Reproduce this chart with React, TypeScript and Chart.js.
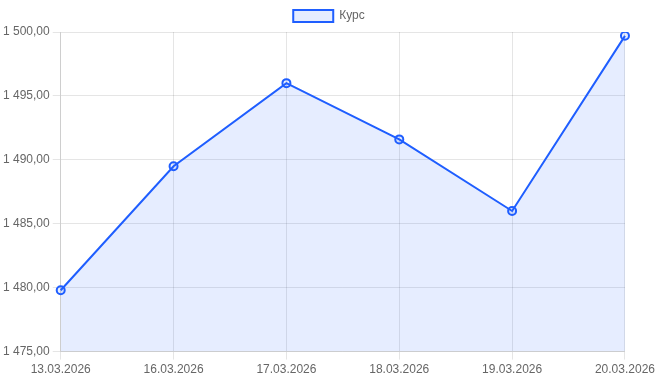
import React, { useEffect, useRef } from "react";
import { Chart, registerables } from "chart.js";

Chart.register(...registerables);

const categories = ["13.03.2026", "16.03.2026", "17.03.2026", "18.03.2026", "19.03.2026", "20.03.2026"];
const rates = [1479.8, 1489.5, 1496.0, 1491.6, 1486.0, 1499.7];
const seriesLabel = "Курс";

const fmt = (v: number) =>
  v.toFixed(2).replace(".", ",").replace(/\B(?=(\d{3})+(?!\d))/g, " ");

export default function App() {
  const ref = useRef<HTMLCanvasElement | null>(null);
  useEffect(() => {
    document.body.style.margin = "0";
    const ctx = ref.current!;
    Chart.defaults.font.family = "Arial, 'Liberation Sans', Helvetica, sans-serif";
    Chart.defaults.color = "#666";
    const chart = new Chart(ctx, {
      type: "line",
      data: {
        labels: categories,
        datasets: [
          {
            label: seriesLabel,
            data: rates,
            borderColor: "#1f5eff",
            backgroundColor: "rgba(31,94,255,0.11)",
            borderWidth: 2,
            fill: true,
            tension: 0,
            pointRadius: 4,
            pointBorderWidth: 2,
            pointBackgroundColor: "rgba(31,94,255,0.11)",
            pointBorderColor: "#1f5eff",
          },
        ],
      },
      options: {
        responsive: false,
        animation: false,
        plugins: {
          legend: { display: true, position: "top" },
          tooltip: { enabled: false },
        },
        scales: {
          x: {
            grid: { color: "rgba(0,0,0,0.1)" },
          },
          y: {
            min: 1475,
            max: 1500,
            ticks: { stepSize: 5, callback: (v: any) => fmt(Number(v)) },
            grid: { color: "rgba(0,0,0,0.1)" },
          },
        },
      },
    });
    return () => chart.destroy();
  }, []);
  return <canvas ref={ref} width={658} height={380} style={{ display: "block" }} />;
}
